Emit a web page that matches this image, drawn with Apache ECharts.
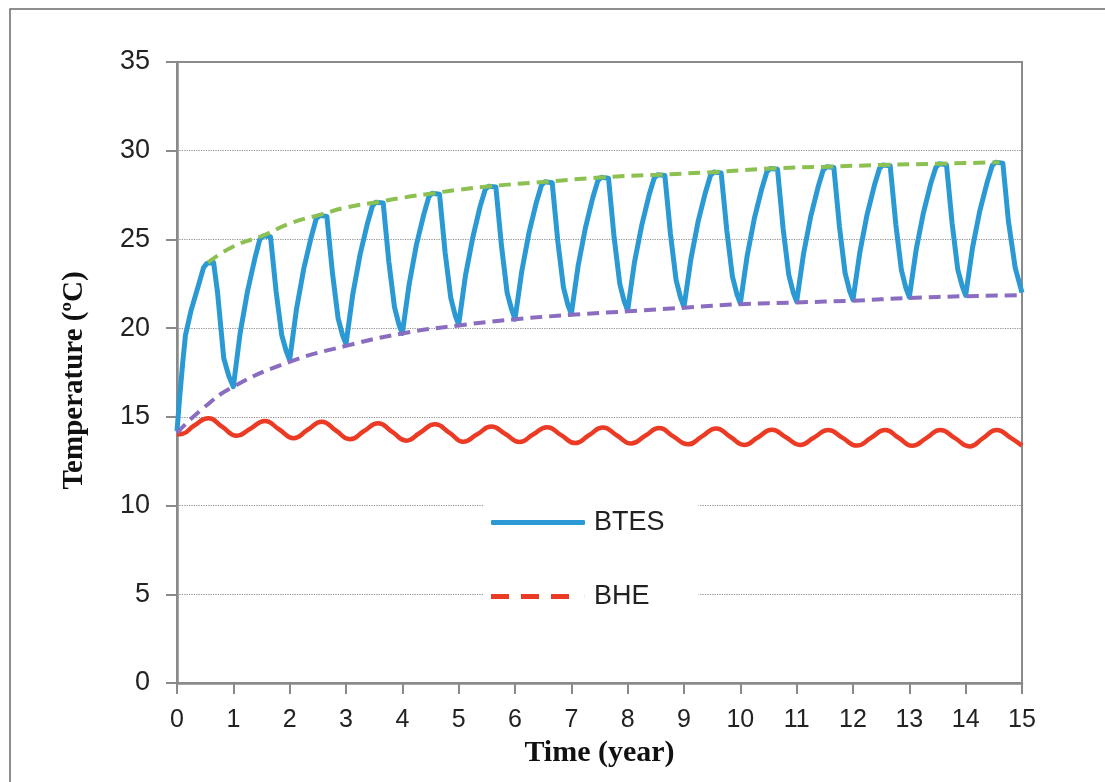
<!DOCTYPE html>
<html>
<head>
<meta charset="utf-8">
<script src="https://cdn.jsdelivr.net/npm/echarts@6/dist/echarts.min.js"></script>
<style>
  html, body { margin: 0; padding: 0; background: #fff; }
  #chart { width: 1105px; height: 782px; }
</style>
</head>
<body>
<div id="chart"></div>
<script>
// time in years, temperature in degC
const btes = [
  [0, 14.2], [0.05, 16.2], [0.1, 18.0], [0.15, 19.6], [0.25, 21.0], [0.38, 22.4], [0.47, 23.4], [0.53, 23.65], [0.65, 23.7], [0.72, 22.0], [0.83, 18.3], [0.92, 17.3],
  [1, 16.7], [1.12, 19.7], [1.25, 22.05], [1.38, 23.9], [1.47, 25.0], [1.53, 25.2], [1.66, 25.15], [1.76, 22.05], [1.86, 19.6], [1.94, 18.7],
  [2, 18.2], [2.12, 21.05], [2.25, 23.35], [2.38, 25.1], [2.47, 26.15], [2.53, 26.35], [2.66, 26.3], [2.76, 23.1], [2.86, 20.55], [2.94, 19.6],
  [3, 19.1], [3.12, 21.9], [3.25, 24.15], [3.38, 25.9], [3.47, 26.9], [3.53, 27.1], [3.66, 27.05], [3.76, 23.75], [3.86, 21.2], [3.94, 20.2],
  [4, 19.7], [4.12, 22.45], [4.25, 24.7], [4.38, 26.4], [4.47, 27.4], [4.53, 27.6], [4.66, 27.55], [4.76, 24.25], [4.86, 21.7], [4.94, 20.7],
  [5, 20.2], [5.12, 22.95], [5.25, 25.1], [5.38, 26.85], [5.47, 27.8], [5.53, 28.0], [5.66, 27.95], [5.76, 24.65], [5.86, 22.0], [5.94, 21.05],
  [6, 20.5], [6.12, 23.2], [6.25, 25.4], [6.38, 27.1], [6.47, 28.05], [6.53, 28.25], [6.66, 28.2], [6.76, 24.9], [6.86, 22.3], [6.94, 21.3],
  [7, 20.8], [7.12, 23.5], [7.25, 25.65], [7.38, 27.35], [7.47, 28.3], [7.53, 28.5], [7.66, 28.45], [7.76, 25.1], [7.86, 22.5], [7.94, 21.5],
  [8, 21.0], [8.12, 23.7], [8.25, 25.8], [8.38, 27.5], [8.47, 28.45], [8.53, 28.65], [8.66, 28.6], [8.76, 25.3], [8.86, 22.7], [8.94, 21.7],
  [9, 21.2], [9.12, 23.85], [9.25, 26.0], [9.38, 27.65], [9.47, 28.6], [9.53, 28.8], [9.66, 28.75], [9.76, 25.5], [9.86, 22.9], [9.94, 21.9],
  [10, 21.4], [10.12, 24.05], [10.25, 26.2], [10.38, 27.85], [10.47, 28.8], [10.53, 29.0], [10.66, 28.95], [10.76, 25.6], [10.86, 23.0], [10.94, 22.0],
  [11, 21.5], [11.12, 24.15], [11.25, 26.3], [11.38, 27.95], [11.47, 28.9], [11.53, 29.1], [11.66, 29.05], [11.76, 25.7], [11.86, 23.1], [11.94, 22.1],
  [12, 21.6], [12.12, 24.25], [12.25, 26.4], [12.38, 28.05], [12.47, 29.0], [12.53, 29.2], [12.66, 29.15], [12.76, 25.85], [12.86, 23.25], [12.94, 22.25],
  [13, 21.75], [13.12, 24.4], [13.25, 26.5], [13.38, 28.15], [13.47, 29.05], [13.53, 29.27], [13.66, 29.2], [13.76, 25.9], [13.86, 23.3], [13.94, 22.35],
  [14, 21.85], [14.12, 24.5], [14.25, 26.6], [14.38, 28.2], [14.47, 29.15], [14.53, 29.35], [14.66, 29.3], [14.76, 26.0], [14.88, 23.4], [15, 22.0]
];

const bhe = [
  [0, 14.02], [0.1, 14.05], [0.3, 14.5], [0.56, 14.92], [0.8, 14.45], [1.06, 13.94], [1.31, 14.35], [1.56, 14.77], [1.81, 14.3],
  [2.07, 13.8], [2.32, 14.27], [2.57, 14.73], [2.82, 14.23], [3.07, 13.74], [3.32, 14.2], [3.57, 14.64], [3.82, 14.15],
  [4.07, 13.66], [4.32, 14.12], [4.58, 14.58], [4.84, 14.1], [5.08, 13.6], [5.33, 14.02], [5.58, 14.45], [5.83, 14.03],
  [6.08, 13.58], [6.32, 14.0], [6.57, 14.42], [6.82, 13.97], [7.07, 13.52], [7.31, 13.96], [7.56, 14.4], [7.81, 13.95],
  [8.06, 13.5], [8.31, 13.93], [8.56, 14.37], [8.81, 13.9], [9.07, 13.45], [9.32, 13.9], [9.57, 14.35], [9.82, 13.88],
  [10.07, 13.42], [10.31, 13.84], [10.56, 14.27], [10.81, 13.85], [11.06, 13.42], [11.31, 13.84], [11.56, 14.26], [11.81, 13.83],
  [12.07, 13.38], [12.32, 13.82], [12.57, 14.26], [12.81, 13.82], [13.05, 13.37], [13.3, 13.8], [13.55, 14.26], [13.81, 13.8],
  [14.07, 13.33], [14.31, 13.8], [14.55, 14.26], [14.8, 13.82], [15, 13.38]
];

// envelope through the yearly peaks and troughs
const upper = [
  [0.55, 23.7], [1, 24.6], [1.55, 25.25], [2, 25.9], [2.55, 26.4], [3, 26.8], [3.55, 27.1], [4, 27.35], [4.55, 27.6],
  [5, 27.8], [5.55, 28.0], [6.55, 28.25], [7.55, 28.5], [8.55, 28.65], [9.55, 28.8], [10.55, 29.0], [11.55, 29.1],
  [12.55, 29.2], [13.55, 29.27], [14.6, 29.35]
];
const lower = [
  [0, 14.1], [0.45, 15.45], [1, 16.7], [2, 18.1], [3, 19.0], [4, 19.7], [5, 20.15], [6, 20.5], [7, 20.75], [8, 20.95],
  [9, 21.15], [10, 21.35], [11, 21.45], [12, 21.55], [13, 21.7], [14, 21.8], [15, 21.85]
];

const axisGray = '#8a8a8a';
const sans = 'Liberation Sans, Arial, sans-serif';
const serif = 'Liberation Serif, Times New Roman, serif';

const chart = echarts.init(document.getElementById('chart'));
chart.setOption({
  animation: false,
  backgroundColor: '#fff',
  graphic: [{
    type: 'rect',
    shape: { x: 10, y: 9, width: 1200, height: 900 },
    style: { fill: 'none', stroke: '#6a6a6a', lineWidth: 1.5 },
    silent: true
  }],
  grid: {
    left: 177, right: 83, top: 62, bottom: 99,
    show: true, borderColor: axisGray, borderWidth: 2
  },
  legend: {
    orient: 'vertical',
    left: 483, top: 499,
    padding: [10, 34, 10, 8],
    backgroundColor: '#fff',
    itemWidth: 94, itemHeight: 5, itemGap: 47,
    textStyle: { fontFamily: sans, fontSize: 27, color: '#222', padding: [0, 0, 0, 4] },
    data: [
      { name: 'BTES', icon: 'roundRect' },
      { name: 'BHE', icon: 'path://M0,0h18v5h-18z M30,0h18v5h-18z M60,0h18v5h-18z M93.9,0h0.1v5h-0.1z' }
    ]
  },
  xAxis: {
    type: 'value', min: 0, max: 15, interval: 1,
    name: 'Time (year)', nameLocation: 'middle', nameGap: 51,
    nameTextStyle: { fontFamily: serif, fontWeight: 'bold', fontSize: 30, color: '#111' },
    axisLine: { lineStyle: { color: axisGray, width: 2.5 } },
    axisTick: { length: 11, lineStyle: { color: axisGray, width: 2 } },
    axisLabel: { margin: 25, fontFamily: sans, fontSize: 25, color: '#222' },
    splitLine: { show: false }
  },
  yAxis: {
    type: 'value', min: 0, max: 35, interval: 5,
    name: 'Temperature (ºC)', nameLocation: 'middle', nameGap: 88,
    nameTextStyle: { fontFamily: serif, fontWeight: 'bold', fontSize: 29, color: '#111', padding: [0, 16, 0, 0] },
    axisLine: { show: true, lineStyle: { color: axisGray, width: 2.5 } },
    axisTick: { show: true, length: 11, lineStyle: { color: axisGray, width: 2 } },
    axisLabel: { margin: 27, fontFamily: sans, fontSize: 27, color: '#222' },
    splitLine: { lineStyle: { color: '#8f8f8f', type: 'dotted', width: 1.2 } }
  },
  series: [
    {
      name: 'BTES', type: 'line', data: btes, symbol: 'none', z: 3,
      lineStyle: { color: '#2b9ad4', width: 5, join: 'round' },
      itemStyle: { color: '#2b9ad4' }
    },
    {
      name: 'BHE', type: 'line', data: bhe, symbol: 'none', smooth: 0.5, z: 3,
      lineStyle: { color: '#ec3b24', width: 4.5 },
      itemStyle: { color: '#ec3b24' }
    },
    {
      name: 'upper', type: 'line', data: upper, symbol: 'none', smooth: true, z: 4,
      lineStyle: { color: '#8cc152', width: 4, type: [12, 7] }
    },
    {
      name: 'lower', type: 'line', data: lower, symbol: 'none', smooth: true, z: 4,
      lineStyle: { color: '#8a6cc0', width: 4, type: [12, 7] }
    }
  ]
});
</script>
</body>
</html>
